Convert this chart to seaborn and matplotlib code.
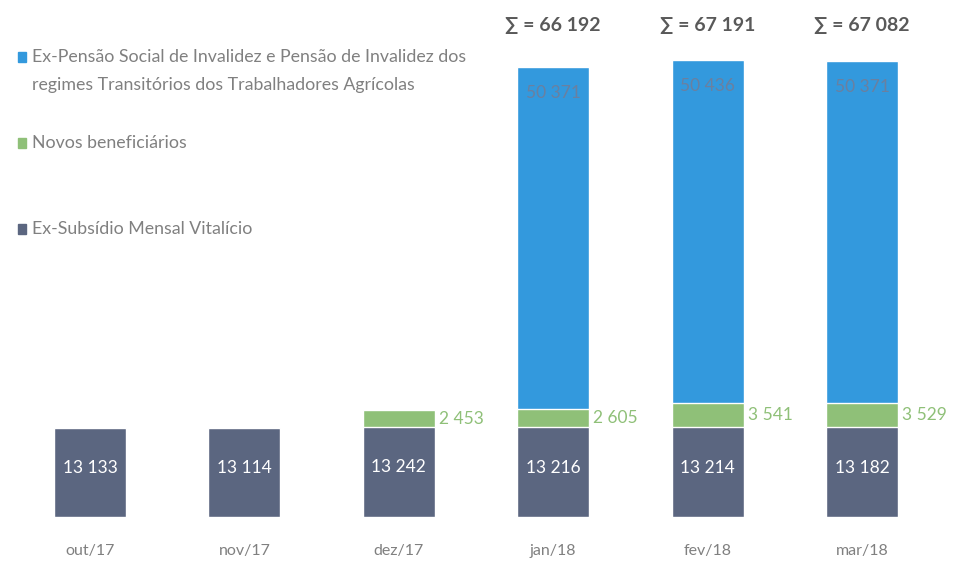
import seaborn as sns
import matplotlib.pyplot as plt
import numpy as np

meses = ["out/17", "nov/17", "dez/17", "jan/18", "fev/18", "mar/18"]
ex_subsidio = [13133, 13114, 13242, 13216, 13214, 13182]
novos = [0, 0, 2453, 2605, 3541, 3529]
ex_pensao = [0, 0, 0, 50371, 50436, 50371]
totais = [None, None, None, 66192, 67191, 67082]

legenda = [
    "Ex-Pensão Social de Invalidez e Pensão de Invalidez dos",
    "Novos beneficiários",
    "Ex-Subsídio Mensal Vitalício",
]
legenda_linha2 = "regimes Transitórios dos Trabalhadores Agrícolas"

azul = "#3399dd"
verde = "#8fc078"
cinza = "#5b6680"
texto = "#808080"

sns.set_style("white")
plt.rcParams["font.family"] = ["Lato", "DejaVu Sans"]

fig = plt.figure(figsize=(9.59, 5.67), dpi=100)
ax = fig.add_axes([0, 50 / 567, 1, 517 / 567])

ex_subsidio = np.array(ex_subsidio)
novos = np.array(novos)
ex_pensao = np.array(ex_pensao)
topo_verde = ex_subsidio + novos
topo_azul = topo_verde + ex_pensao

# barras empilhadas: desenha o total e depois as camadas de baixo por cima
sns.barplot(x=meses, y=topo_azul, color=azul, width=0.466, saturation=1, ax=ax)
sns.barplot(x=meses, y=topo_verde, color=verde, width=0.466, saturation=1, ax=ax)
sns.barplot(x=meses, y=ex_subsidio, color=cinza, width=0.466, saturation=1, ax=ax)

ax.set_xlim(-0.583, 5.628)
ax.set_ylim(0, 76000)
ax.set_yticks([])
ax.set_xticks([])
sns.despine(left=True, bottom=True)


def fmt(v):
    return f"{v:,}".replace(",", " ")


for i, m in enumerate(meses):
    ax.text(i, -5000, m, ha="center", va="center", fontsize=11.5, color=texto,
            clip_on=False)
    ax.text(i, ex_subsidio[i] * 0.55, fmt(ex_subsidio[i]), ha="center", va="center",
            fontsize=12.5, color="white")
    if novos[i] > 0:
        ax.text(i + 0.26, ex_subsidio[i] + novos[i] / 2, fmt(novos[i]), ha="left",
                va="center", fontsize=12.5, color=verde)
    if ex_pensao[i] > 0:
        ax.text(i, topo_azul[i] - 3800, fmt(ex_pensao[i]), ha="center", va="center",
                fontsize=12.5, color="#6a80a0")
    if totais[i]:
        ax.text(i, 72300, "∑ = " + fmt(totais[i]), ha="center", va="center",
                fontsize=14, fontweight="bold", color="#595959")

# legenda manual à esquerda
cores = [azul, verde, cinza]
ys_px = [57, 143, 229]
for y_px, cor, nome in zip(ys_px, cores, legenda):
    y = 1 - y_px / 567
    fig.patches.append(plt.Rectangle((18 / 959, y - 0.008), 8 / 959, 0.016,
                                     transform=fig.transFigure, color=cor))
    fig.text(32 / 959, y, nome, ha="left", va="center", fontsize=12.8, color=texto)
fig.text(32 / 959, 1 - 85 / 567, legenda_linha2, ha="left", va="center",
         fontsize=12.8, color=texto)

fig.savefig("out.png", dpi=100)
